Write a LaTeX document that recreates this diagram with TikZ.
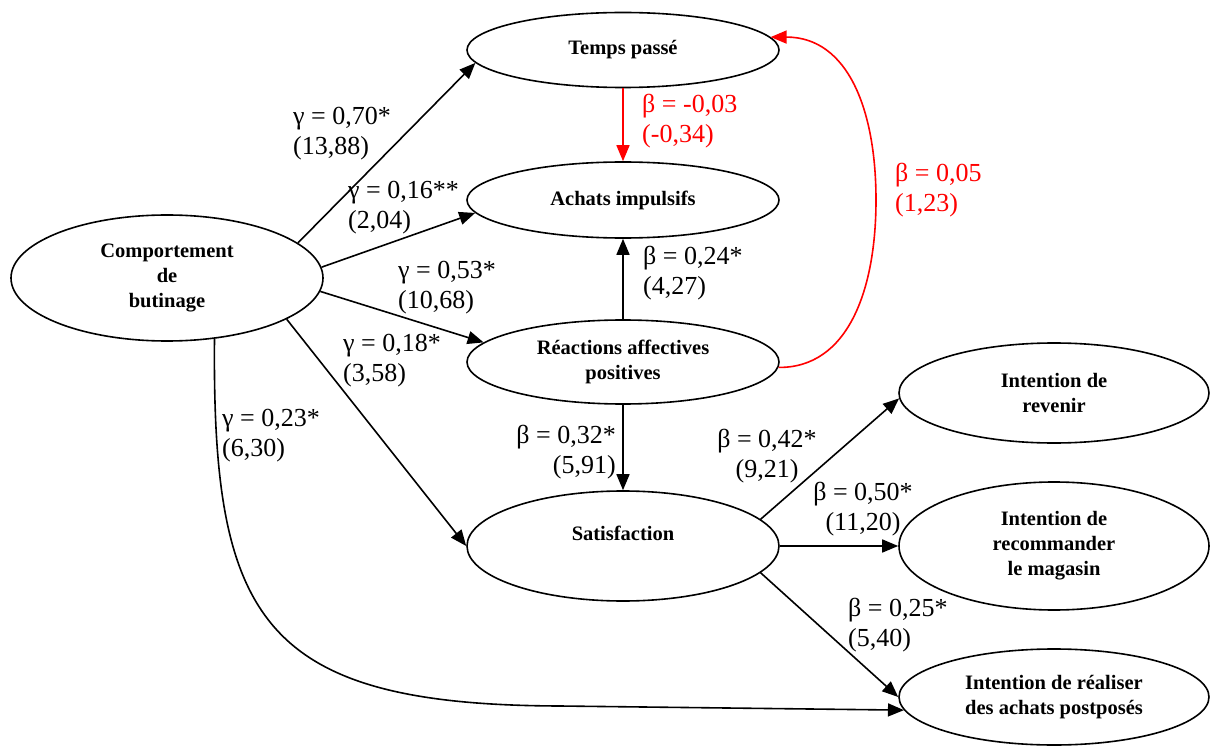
\documentclass[tikz,border=0pt]{standalone}
\usepackage{fontspec}
\setmainfont{Liberation Serif}
\newfontfamily\timesfam{Liberation Serif}
\usetikzlibrary{shapes.geometric,arrows.meta}
\definecolor{pathred}{RGB}{255,0,0}
\tikzset{
  construct/.style={ellipse, draw, line width=1.6pt, inner sep=0pt, align=center,
    font=\timesfam\fontsize{20.5}{25}\selectfont\bfseries},
  arr/.style={-{Triangle[length=16pt,width=13pt]}, line width=1.6pt},
  redarr/.style={arr, draw=pathred},
  coef/.style={inner sep=0pt, font=\timesfam\fontsize{26}{30}\selectfont},
  redcoef/.style={coef, text=pathred}
}
\begin{document}
\begin{tikzpicture}[x=1pt,y=-1pt]
\useasboundingbox (0,0) rectangle (1211,746);
% constructs
\node[construct, minimum width=312pt, minimum height=126pt] (comp) at (167,278) {Comportement\\de\\butinage};
\node[construct, minimum width=312pt, minimum height=75pt] (temps) at (623,50) {Temps passé};
\node[construct, minimum width=312pt, minimum height=76pt] (achats) at (623,200) {Achats impulsifs};
\node[construct, minimum width=312pt, minimum height=84pt] (reac) at (623,362) {Réactions affectives\\positives};
\node[construct, minimum width=312pt, minimum height=110pt] (satis) at (623,546) {Satisfaction\\\mbox{}};
\node[construct, minimum width=310pt, minimum height=100pt] (rev) at (1054,393) {Intention de\\revenir};
\node[construct, minimum width=310pt, minimum height=128pt] (recom) at (1054,546) {Intention de\\recommander\\le magasin};
\node[construct, minimum width=310pt, minimum height=96pt] (real) at (1054,697) {Intention de réaliser\\des achats postposés};
% connectors
\draw[arr] (comp.15.7) -- (temps.185);
\draw[arr] (comp.4.8) -- (achats.185);
\draw[arr] (comp.-5.2) -- (reac.172);
\draw[arr] (comp.-19.6) -- (satis.180);
\draw[arr] (comp.-52) .. controls (212,620) and (262,705) .. (560,706) -- (real.185);
\draw[redarr] (temps.270) -- (achats.90);
\draw[arr] (reac.90) -- (achats.270);
\draw[arr] (reac.270) -- (satis.90);
\draw[redarr] (reac.-2) .. controls (848,368) and (876,290) .. (876,200) .. controls (876,110) and (848,37) .. (temps.5);
\draw[arr] (satis.11.6) -- (rev.182);
\draw[arr] (satis.0) -- (recom.180);
\draw[arr] (satis.-11.4) -- (real.180);
% coefficients
\node[coef, anchor=west, align=left] (l1) at (293,134) {γ = 0,70*\\(13,88)};
\node[coef, anchor=west, align=left] (l2) at (348,208) {γ = 0,16**\\(2,04)};
\node[coef, anchor=west, align=left] (l3) at (398,288) {γ = 0,53*\\(10,68)};
\node[coef, anchor=west, align=left] (l4) at (343,361) {γ = 0,18*\\(3,58)};
\node[coef, anchor=west, align=left] (l5) at (222,436) {γ = 0,23*\\(6,30)};
\node[redcoef, anchor=west, align=left] (l6) at (642,121) {β = -0,03\\(-0,34)};
\node[redcoef, anchor=west, align=left] (l7) at (895,190) {β = 0,05\\(1,23)};
\node[coef, anchor=west, align=left] (l8) at (643,273) {β = 0,24*\\(4,27)};
\node[coef, anchor=east, align=right] (l9) at (616,452) {β = 0,32*\\(5,91)};
\node[coef, align=center] (l10) at (767,456) {β = 0,42*\\(9,21)};
\node[coef, align=center] (l11) at (863,509) {β = 0,50*\\(11,20)};
\node[coef, anchor=west, align=left] (l12) at (848,625) {β = 0,25*\\(5,40)};
\end{tikzpicture}
\end{document}
